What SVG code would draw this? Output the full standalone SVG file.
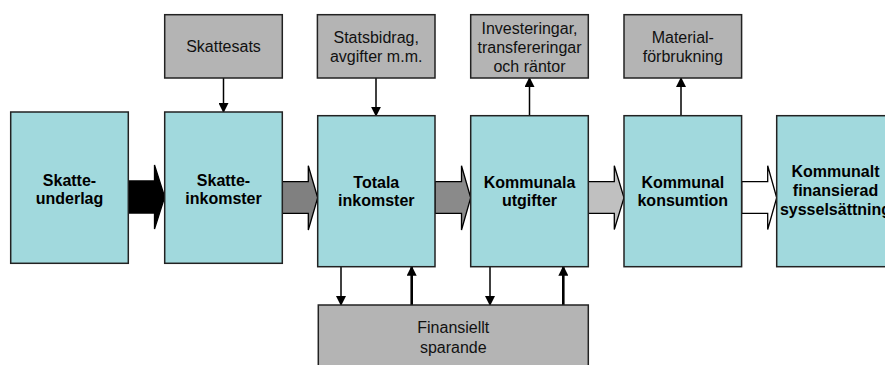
<svg xmlns="http://www.w3.org/2000/svg" width="885" height="365" viewBox="0 0 885 365">
<defs>
<marker id="ah" markerUnits="userSpaceOnUse" markerWidth="10" markerHeight="10" refX="9" refY="5" orient="auto">
<path d="M0,0 L10,5 L0,10 Z" fill="#000"/>
</marker>
<style>
.main{fill:#a1d9dd;stroke:#222;stroke-width:1.5}
.side{fill:#b4b4b4;stroke:#222;stroke-width:1.5}
.bt{font-family:"Liberation Sans",Arial,sans-serif;font-size:16px;font-weight:bold;text-anchor:middle;fill:#000}
.rt{font-family:"Liberation Sans",Arial,sans-serif;font-size:16px;text-anchor:middle;fill:#111}
.ln{stroke:#000;stroke-width:1.5;fill:none}
.lnb{stroke:#000;stroke-width:2.6;fill:none}
.blk{stroke:#000;stroke-width:1.3}
</style>
</defs>
<rect width="885" height="365" fill="#fff"/>

<g id="connectors">
<path class="blk" fill="#000" d="M128.3,181 H154.5 V165 L164.7,197 L154.5,229 V213 H128.3 Z"/>
<path class="blk" fill="#808080" d="M282.3,181.7 H308.3 V165.7 L317.7,197.7 L308.3,230 V213.3 H282.3 Z"/>
<path class="blk" fill="#8a8a8a" d="M435,181.7 H461.5 V165.7 L470.7,197.7 L461.5,230 V213.3 H435 Z"/>
<path class="blk" fill="#c0c0c0" d="M588.3,181.7 H614.3 V165.7 L624,197.7 L614.3,229.5 V213.3 H588.3 Z"/>
<path class="blk" fill="#fff" d="M741.7,181.7 H767.7 V165.7 L776.7,197.7 L767.7,229.5 V213.3 H741.7 Z"/>
<line class="ln" x1="223.5" y1="78" x2="223.5" y2="112" marker-end="url(#ah)"/>
<line class="ln" x1="376" y1="78" x2="376" y2="115.7" marker-end="url(#ah)"/>
<line class="ln" x1="529.5" y1="115.7" x2="529.5" y2="78" marker-end="url(#ah)"/>
<line class="ln" x1="681" y1="115.7" x2="681" y2="78" marker-end="url(#ah)"/>
<line class="ln" x1="341" y1="266.7" x2="341" y2="305" marker-end="url(#ah)"/>
<line class="lnb" x1="411.7" y1="305" x2="411.7" y2="266.7" marker-end="url(#ah)"/>
<line class="ln" x1="490" y1="266.7" x2="490" y2="305" marker-end="url(#ah)"/>
<line class="lnb" x1="563.3" y1="305" x2="563.3" y2="266.7" marker-end="url(#ah)"/>
</g>

<g id="skattesats">
<rect class="side" x="164.7" y="14.7" width="117.6" height="63.3"/>
<text class="rt" x="223.5" y="52">Skattesats</text>
</g>
<g id="statsbidrag">
<rect class="side" x="317.4" y="14.7" width="117.6" height="63.3"/>
<text class="rt" x="376.2" y="43">Statsbidrag,</text>
<text class="rt" x="376.2" y="62">avgifter m.m.</text>
</g>
<g id="investeringar">
<rect class="side" x="470.7" y="14.7" width="117.6" height="63.3"/>
<text class="rt" x="529.5" y="34">Investeringar,</text>
<text class="rt" x="529.5" y="53">transfereringar</text>
<text class="rt" x="529.5" y="72">och räntor</text>
</g>
<g id="material">
<rect class="side" x="624" y="14.7" width="117.6" height="63.3"/>
<text class="rt" x="682.8" y="43">Material-</text>
<text class="rt" x="682.8" y="62">förbrukning</text>
</g>

<g id="skatteunderlag">
<rect class="main" x="10.7" y="112" width="117.6" height="151.3"/>
<text class="bt" x="69.5" y="186">Skatte-</text>
<text class="bt" x="69.5" y="204">underlag</text>
</g>
<g id="skatteinkomster">
<rect class="main" x="164.7" y="112" width="117.6" height="151.3"/>
<text class="bt" x="223.5" y="186">Skatte-</text>
<text class="bt" x="223.5" y="204">inkomster</text>
</g>
<g id="totala">
<rect class="main" x="317.7" y="115.7" width="117.3" height="151"/>
<text class="bt" x="376.3" y="188">Totala</text>
<text class="bt" x="376.3" y="206">inkomster</text>
</g>
<g id="kommunala">
<rect class="main" x="470.7" y="115.7" width="117.6" height="151"/>
<text class="bt" x="529.5" y="188">Kommunala</text>
<text class="bt" x="529.5" y="206">utgifter</text>
</g>
<g id="konsumtion">
<rect class="main" x="624" y="115.7" width="117.6" height="151"/>
<text class="bt" x="682.8" y="188">Kommunal</text>
<text class="bt" x="682.8" y="206">konsumtion</text>
</g>
<g id="sysselsattning">
<rect class="main" x="776.7" y="115.7" width="117.6" height="151"/>
<text class="bt" x="835.5" y="177">Kommunalt</text>
<text class="bt" x="835.5" y="196">finansierad</text>
<text class="bt" x="835.5" y="215">sysselsättning</text>
</g>
<g id="finansiellt">
<rect class="side" x="318.3" y="305" width="270" height="70"/>
<text class="rt" x="453.3" y="333">Finansiellt</text>
<text class="rt" x="453.3" y="353">sparande</text>
</g>
</svg>
